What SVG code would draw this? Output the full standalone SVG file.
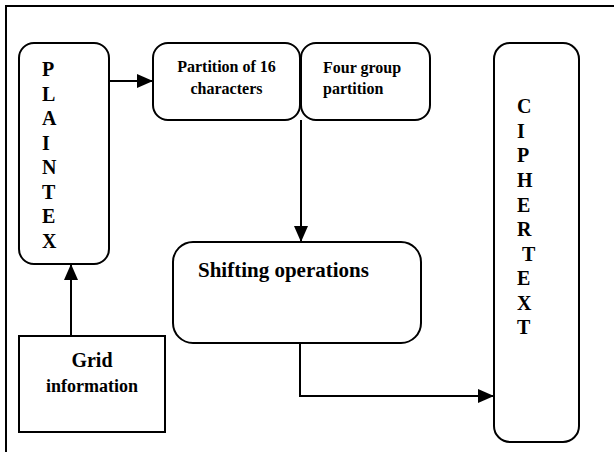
<svg xmlns="http://www.w3.org/2000/svg" width="614" height="452" viewBox="0 0 614 452">
<style>
.box{fill:#fff;stroke:#000;stroke-width:2}
.ln{fill:none;stroke:#000;stroke-width:2}
text{font-family:"Liberation Serif","Times New Roman",serif;font-weight:bold;fill:#000}
.big{font-size:20px}
.mid{font-size:16px}
</style>
<defs>
<marker id="ah" viewBox="0 0 16 14" refX="16" refY="7" markerWidth="16" markerHeight="14" markerUnits="userSpaceOnUse" orient="auto">
<path d="M0,0 L16,7 L0,14 Z" fill="#000"/>
</marker>
</defs>
<rect width="614" height="452" fill="#fff"/>
<path class="ln" d="M6,452 V6 H614"/>
<g id="connectors">
<path class="ln" d="M109,81 H153" marker-end="url(#ah)"/>
<path class="ln" d="M301,120 V242" marker-end="url(#ah)"/>
<path class="ln" d="M300,343 V396 H494" marker-end="url(#ah)"/>
<path class="ln" d="M71,336 V264" marker-end="url(#ah)"/>
</g>
<g id="plaintex">
<rect class="box" x="19" y="43" width="90" height="221" rx="15"/>
<text class="big" x="42" y="76">P</text>
<text class="big" x="42" y="100.5">L</text>
<text class="big" x="42" y="125">A</text>
<text class="big" x="42" y="149.5">I</text>
<text class="big" x="42" y="174">N</text>
<text class="big" x="42" y="198.5">T</text>
<text class="big" x="42" y="223">E</text>
<text class="big" x="42" y="248">X</text>
</g>
<g id="partition16">
<rect class="box" x="153" y="43" width="147" height="77" rx="15"/>
<text class="mid" x="226.5" y="72" text-anchor="middle">Partition of 16</text>
<text class="mid" x="226.5" y="94" text-anchor="middle">characters</text>
</g>
<g id="fourgroup">
<rect class="box" x="301" y="43" width="129" height="77" rx="15"/>
<text class="mid" x="323" y="73">Four group</text>
<text class="mid" x="323" y="94">partition</text>
</g>
<g id="shifting">
<rect class="box" x="173" y="242" width="248" height="101" rx="20"/>
<text class="big" x="198" y="277" style="font-size:21px">Shifting operations</text>
</g>
<g id="grid">
<rect class="box" x="19" y="336" width="146" height="96"/>
<text x="92" y="367" text-anchor="middle" style="font-size:20px">Grid</text>
<text x="92" y="392" text-anchor="middle" style="font-size:18px">information</text>
</g>
<g id="ciphertext">
<rect class="box" x="494" y="43" width="85" height="399" rx="16"/>
<text class="big" x="517" y="113">C</text>
<text class="big" x="517" y="137.5">I</text>
<text class="big" x="517" y="162">P</text>
<text class="big" x="517" y="187">H</text>
<text class="big" x="517" y="211.5">E</text>
<text class="big" x="517" y="236">R</text>
<text class="big" x="522" y="260.5">T</text>
<text class="big" x="517" y="285">E</text>
<text class="big" x="517" y="309.5">X</text>
<text class="big" x="517" y="334">T</text>
</g>
</svg>
